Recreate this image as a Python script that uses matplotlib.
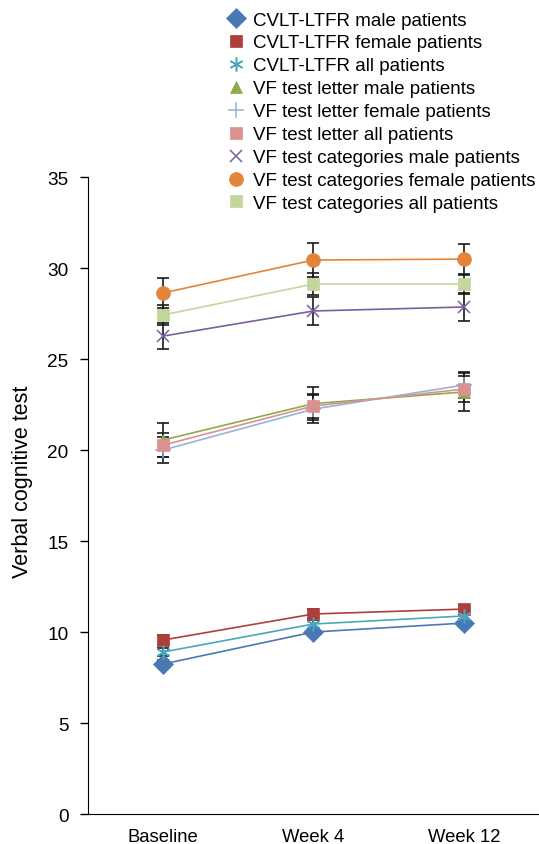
import numpy as np
import matplotlib.pyplot as plt
from matplotlib.lines import Line2D

plt.rcParams['font.family'] = ['Liberation Sans', 'DejaVu Sans']

timepoints = ['Baseline', 'Week 4', 'Week 12']

labels = ['CVLT-LTFR male patients', 'CVLT-LTFR female patients', 'CVLT-LTFR all patients',
          'VF test letter male patients', 'VF test letter female patients', 'VF test letter all patients',
          'VF test categories male patients', 'VF test categories female patients',
          'VF test categories all patients']

cvlt_male = [8.24, 10.0, 10.49]
cvlt_female = [9.56, 10.99, 11.26]
cvlt_all = [8.9, 10.44, 10.88]
letter_male = [20.55, 22.55, 23.19]
letter_female = [20.0, 22.25, 23.57]
letter_all = [20.27, 22.42, 23.35]
cat_male = [26.26, 27.64, 27.86]
cat_female = [28.63, 30.44, 30.49]
cat_all = [27.42, 29.12, 29.12]

cvlt_male_err = [0.2, 0.2, 0.2]
cvlt_female_err = [0.25, 0.25, 0.25]
cvlt_all_err = [0.2, 0.2, 0.2]
letter_male_err = [0.95, 0.9, 1.05]
letter_female_err = [0.7, 0.75, 0.7]
letter_all_err = [0.65, 0.65, 0.7]
cat_male_err = [0.7, 0.77, 0.75]
cat_female_err = [0.82, 0.93, 0.85]
cat_all_err = [0.55, 0.6, 0.55]

series = [cvlt_male, cvlt_female, cvlt_all, letter_male, letter_female, letter_all,
          cat_male, cat_female, cat_all]
errors = [cvlt_male_err, cvlt_female_err, cvlt_all_err, letter_male_err, letter_female_err,
          letter_all_err, cat_male_err, cat_female_err, cat_all_err]
colors = ['#4a78b4', '#ac3f3c', '#4aa7bd', '#8bab4c', '#95b3d7', '#d9928f',
          '#7b5fa0', '#e4843a', '#c3d69b']
markers = ['D', 's', (6, 2, 0), '^', '+', 's', 'x', 'o', 's']
sizes = [10, 9, 10, 9, 11, 9, 9, 10, 9]

fig = plt.figure(figsize=(5.39, 8.45), dpi=100)
ax = fig.add_axes([0.163, 0.0355, 0.837, 0.7538])

x = np.arange(len(timepoints))
for vals, err in zip(series, errors):
    ax.errorbar(x, vals, yerr=err, fmt='none', ecolor='#1a1a1a', elinewidth=1.2,
                capsize=4.5, capthick=1.2, zorder=1)

handles = []
for vals, c, m, s in zip(series, colors, markers, sizes):
    mew = 1.1 if m in ['+', 'x', (6, 2, 0)] else 0.5
    ax.plot(x, vals, color=c, lw=1.2, marker=m, markersize=s, markeredgecolor=c,
            markeredgewidth=mew, zorder=2)
    handles.append(Line2D([], [], color=c, linestyle='none', marker=m, markersize=s,
                          markeredgecolor=c, markeredgewidth=mew))

ax.set_xlim(-0.5, 2.5)
ax.set_ylim(0, 35)
ax.set_yticks(range(0, 36, 5))
ax.set_xticks(x)
ax.set_xticklabels(timepoints)
ax.tick_params(axis='x', length=0, labelsize=13.3, pad=10)
ax.tick_params(axis='y', length=6, width=1, labelsize=13.7, pad=8)
ax.set_ylabel('Verbal cognitive test', fontsize=15.5)
ax.yaxis.set_label_coords(-0.121, 0.523)
for sp in ['top', 'right']:
    ax.spines[sp].set_visible(False)

fig.legend(handles, labels, loc='upper left', bbox_to_anchor=(0.41, 0.992),
           frameon=False, fontsize=13.5, handlelength=1.0, handletextpad=0.4,
           labelspacing=0.31, borderpad=0.3, borderaxespad=0)

fig.savefig('out.png', dpi=100)
